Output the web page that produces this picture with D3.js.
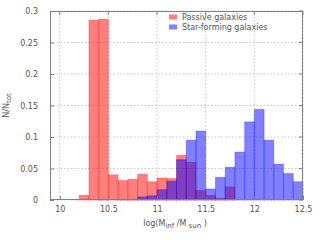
<!DOCTYPE html>
<html><head><meta charset="utf-8">
<script src="https://cdn.jsdelivr.net/npm/d3@7"></script>
<style>
html,body{margin:0;padding:0;background:#fff;}
svg{display:block;font-family:"DejaVu Sans",sans-serif;}
</style></head>
<body>
<script>
const binStarts = [10.2,10.3,10.4,10.5,10.6,10.7,10.8,10.9,11.0,11.1,11.2,11.3,11.4,11.5,11.6,11.7,11.8,11.9,12.0,12.1,12.2,12.3,12.4];
const passive   = [0.0074,0.2855,0.287,0.040,0.031,0.033,0.041,0.029,0.035,0.034,0.071,0.060,0.015,0.0074,0.0026,0.021,0,0,0,0,0,0,0];
const starForming = [0,0,0.001,0,0.001,0.001,0.005,0.0068,0.0165,0.030,0.064,0.095,0.1095,0.0175,0.036,0.052,0.076,0.124,0.144,0.095,0.057,0.042,0.029];
const binWidth = 0.1;
const xTicks = [10,10.5,11,11.5,12,12.5];
const xTickLabels = ["10","10.5","11","11.5","12","12.5"];
const yTicks = [0,0.05,0.1,0.15,0.2,0.25,0.3];
const yTickLabels = ["0","0.05","0.1","0.15","0.2","0.25","0.3"];
const seriesNames = ["Passive galaxies","Star-forming galaxies"];
const seriesColors = ["#ff0000","#0000ff"];

const W=320,H=240;
const m={l:50,r:17,t:11,b:40};
const svg=d3.select("body").append("svg").attr("width",W).attr("height",H);
const x=d3.scaleLinear().domain([9.9,12.5]).range([m.l,W-m.r]);
const y=d3.scaleLinear().domain([0,0.3]).range([H-m.b,m.t]);
const textCol="#555", frameCol="#808080";

// grid
const g=svg.append("g");
g.selectAll("line.gx").data(xTicks).join("line")
 .attr("x1",d=>x(d)).attr("x2",d=>x(d)).attr("y1",y(0)).attr("y2",y(0.3))
 .attr("stroke","#c8c8c8").attr("stroke-width",1).attr("stroke-dasharray","1.5,2");
g.selectAll("line.gy").data(yTicks).join("line")
 .attr("y1",d=>y(d)).attr("y2",d=>y(d)).attr("x1",x(9.9)).attr("x2",x(12.5))
 .attr("stroke","#c8c8c8").attr("stroke-width",1).attr("stroke-dasharray","1.5,2");

// bars
[passive,starForming].forEach((vals,si)=>{
  svg.append("g").selectAll("rect").data(binStarts.map((b,i)=>({b,v:vals[i]})).filter(d=>d.v>0))
   .join("rect")
   .attr("x",d=>x(d.b)).attr("width",d=>x(d.b+binWidth)-x(d.b))
   .attr("y",d=>y(d.v)).attr("height",d=>y(0)-y(d.v))
   .attr("fill",seriesColors[si]).attr("fill-opacity",0.5)
   .attr("stroke",seriesColors[si]).attr("stroke-opacity",0.25).attr("stroke-width",1);
});

// frame
svg.append("rect").attr("x",x(9.9)+0.5).attr("y",y(0.3)+0.5)
 .attr("width",x(12.5)-x(9.9)-1).attr("height",y(0)-y(0.3)-1)
 .attr("fill","none").attr("stroke",frameCol).attr("stroke-width",1);

// axes
const xa=d3.axisBottom(x).tickValues(xTicks).tickFormat((d,i)=>xTickLabels[i]).tickSize(-4).tickPadding(6);
const ya=d3.axisLeft(y).tickValues(yTicks).tickFormat((d,i)=>yTickLabels[i]).tickSize(-4).tickPadding(12);
const gx=svg.append("g").attr("transform",`translate(0,${y(0)})`).call(xa);
const gy=svg.append("g").attr("transform",`translate(${x(9.9)},0)`).call(ya);
[gx,gy].forEach(a=>{a.select(".domain").remove();
 a.selectAll("line").attr("stroke",frameCol);
 a.selectAll("text").attr("fill",textCol).style("font-size","8px").style("font-family","DejaVu Sans");});
// top & right ticks
svg.append("g").selectAll("line").data(xTicks).join("line")
 .attr("x1",d=>x(d)).attr("x2",d=>x(d)).attr("y1",y(0.3)).attr("y2",y(0.3)+4).attr("stroke",frameCol);
svg.append("g").selectAll("line").data(yTicks).join("line")
 .attr("y1",d=>y(d)).attr("y2",d=>y(d)).attr("x1",x(12.5)).attr("x2",x(12.5)-4).attr("stroke",frameCol);

// axis labels
const xl=svg.append("text").attr("x",175).attr("y",226).attr("text-anchor","middle")
 .attr("fill",textCol).style("font-size","8px");
xl.append("tspan").text("log(M");
xl.append("tspan").attr("dy",2).style("font-size","7px").text("inf");
xl.append("tspan").attr("dy",-2).text(" /M");
xl.append("tspan").attr("dy",2).style("font-size","7px").text(" sun");
xl.append("tspan").attr("dy",-2).text(" )");

const yl=svg.append("text").attr("transform",`translate(9,${(y(0)+y(0.3))/2}) rotate(-90)`)
 .attr("text-anchor","middle").attr("fill",textCol).style("font-size","8px");
yl.append("tspan").text("N/N");
yl.append("tspan").attr("dy",2).style("font-size","7px").text("tot");

// legend
const lg=svg.append("g");
seriesNames.forEach((n,i)=>{
  const yy=17+i*10;
  lg.append("rect").attr("x",169).attr("y",yy-2.5).attr("width",8).attr("height",5)
   .attr("fill",seriesColors[i]).attr("fill-opacity",0.5);
  lg.append("text").attr("x",182).attr("y",yy+3).attr("fill",textCol).style("font-size","8px").text(n);
});
</script>
</body></html>
